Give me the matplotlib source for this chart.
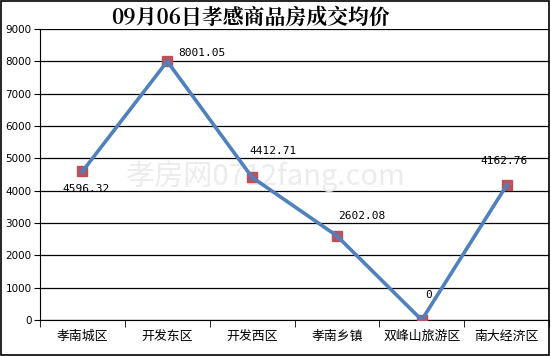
import matplotlib
matplotlib.use("Agg")
import matplotlib.pyplot as plt
from matplotlib.patches import Rectangle

plt.rcParams['font.family'] = ['Noto Sans CJK SC', 'DejaVu Sans']

categories = ["孝南城区", "开发东区", "开发西区", "孝南乡镇", "双峰山旅游区", "南大经济区"]
values = [4596.32, 8001.05, 4412.71, 2602.08, 0, 4162.76]
labels = ["4596.32", "8001.05", "4412.71", "2602.08", "0", "4162.76"]
title = "09月06日孝感商品房成交均价"

fig = plt.figure(figsize=(5.51, 3.56), dpi=100)
W, H = 551, 356
ax = fig.add_axes([40 / W, 1 - 320 / H, (549 - 40) / W, (320 - 29) / H])

x = list(range(len(categories)))
ax.plot(x, values, color='#4f81bd', lw=2.6, zorder=4)
ax.plot(x, values, ls='none', marker='s', ms=7.5, mfc='#b0566c', mec='#c0504d', mew=1, zorder=3)

ax.set_xlim(-0.5, len(categories) - 0.5)
ax.set_ylim(0, 9000)
ax.set_yticks(range(0, 9001, 1000))
ax.set_yticklabels([str(v) for v in range(0, 9001, 1000)], fontsize=7.5, family=['DejaVu Sans'])
ax.yaxis.grid(True, color='black', lw=0.9)
ax.set_axisbelow(True)
ax.set_xticks(x)
ax.set_xticklabels(categories, fontsize=9.3)
ax.set_xticks([i + 0.5 for i in range(-1, len(categories))], minor=True)
ax.tick_params(axis='x', which='major', length=0, pad=7)
ax.tick_params(axis='x', which='minor', length=5, direction='out', color='black')
ax.tick_params(axis='y', length=4, direction='out', pad=2)
for s in ['top', 'right']:
    ax.spines[s].set_visible(False)
ax.spines['left'].set_color('black')
ax.spines['bottom'].set_color('black')

# label offsets in pixels (dx right, dy down) relative to the marker
offsets_px = [(-20, 18), (11, -8), (-3, -26), (1, -20), (3, -25), (-26, -24)]
for xi, v, lab, (dx, dy) in zip(x, values, labels, offsets_px):
    ax.annotate(lab, (xi, v), xytext=(dx * 0.72, -dy * 0.72), textcoords='offset points',
                fontsize=8, family=['DejaVu Sans Mono'], ha='left', va='center', zorder=5)

ax.text(265 / W * W / (549 - 40) - 40 / (549 - 40), 1 - (176 - 29) / (320 - 29),
        "孝房网0712fang.com", transform=ax.transAxes, fontsize=21, color='#ececec',
        ha='center', va='center', zorder=1)

fig.text(251 / W, 1 - 18 / H, title, fontsize=15, fontweight='bold', ha='center', va='center',
         family=['Noto Serif CJK SC', 'Noto Sans CJK SC', 'DejaVu Sans'])

fig.patches.append(Rectangle((0.002, 0.003), 0.995, 0.993, transform=fig.transFigure,
                             fill=False, edgecolor='black', lw=1.2))

fig.savefig("out.png", dpi=100)
